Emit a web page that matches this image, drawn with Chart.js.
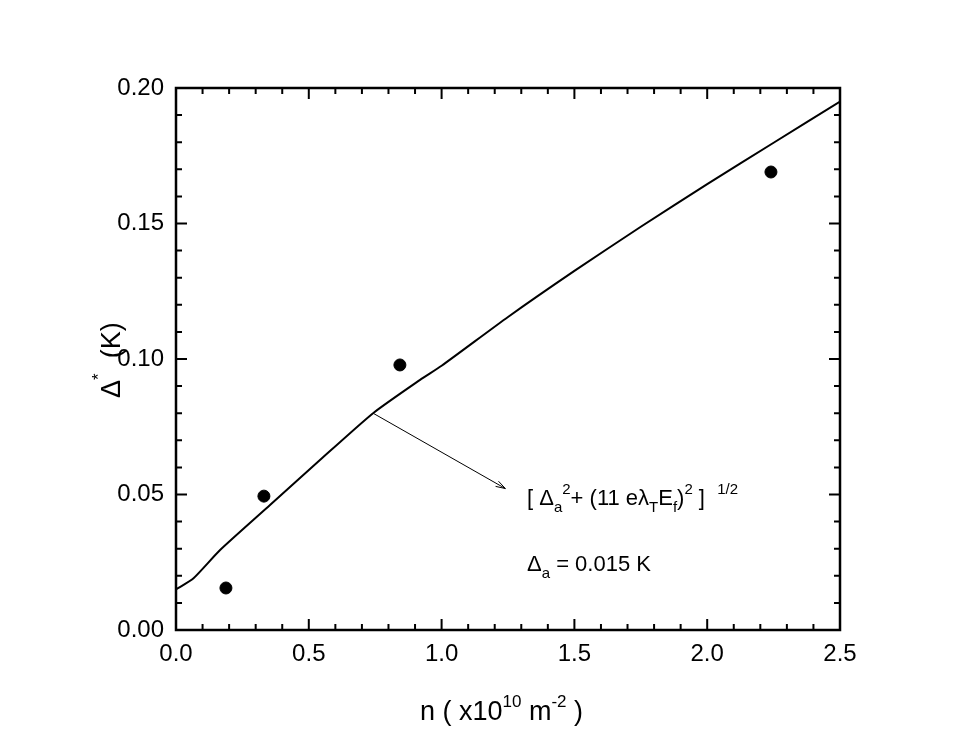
<!DOCTYPE html>
<html><head><meta charset="utf-8">
<script src="https://cdn.jsdelivr.net/npm/chart.js@4"></script>
<style>html,body{margin:0;padding:0;background:#fff}#wrap{width:977px;height:755px}</style>
</head><body><div id="wrap"><canvas id="c" width="977" height="755"></canvas></div>
<script>
const pointsX = [0.188, 0.331, 0.843, 2.24];
const pointsY = [0.0155, 0.0494, 0.0978, 0.169];
const curveX = [0, 0.065, 0.166, 0.354, 0.542, 0.742, 0.919, 1.0, 1.25, 1.5, 1.75, 2.0, 2.25, 2.5];
const curveY = [0.015, 0.019, 0.0295, 0.0461, 0.0627, 0.080, 0.0923, 0.0975, 0.1155, 0.1325, 0.1488, 0.1645, 0.1798, 0.195];
const xTicks = [0, 0.5, 1.0, 1.5, 2.0, 2.5];
const yTicks = [0, 0.05, 0.10, 0.15, 0.20];
const FONT = '"Liberation Sans", Arial, sans-serif';

const deco = {
  id: 'deco',
  afterDraw(ch) {
    const c = ch.ctx, a = ch.chartArea, xs = ch.scales.x, ys = ch.scales.y;
    c.save();
    c.strokeStyle = '#000'; c.lineWidth = 2.5;
    c.strokeRect(a.left, a.top, a.right - a.left, a.bottom - a.top);
    c.lineWidth = 2;
    for (let i = 0; i <= 25; i++) {
      const v = i * 0.1, px = xs.getPixelForValue(v), L = i % 5 === 0 ? 11 : 6;
      c.beginPath(); c.moveTo(px, a.bottom); c.lineTo(px, a.bottom - L);
      c.moveTo(px, a.top); c.lineTo(px, a.top + L); c.stroke();
    }
    for (let i = 0; i <= 20; i++) {
      const v = i * 0.01, py = ys.getPixelForValue(v), L = i % 5 === 0 ? 11 : 6;
      c.beginPath(); c.moveTo(a.left, py); c.lineTo(a.left + L, py);
      c.moveTo(a.right, py); c.lineTo(a.right - L, py); c.stroke();
    }
    const x0 = xs.getPixelForValue(0.742), y0 = ys.getPixelForValue(0.080);
    const x1 = xs.getPixelForValue(1.24), y1 = ys.getPixelForValue(0.0522);
    c.lineWidth = 1;
    c.beginPath(); c.moveTo(x0, y0); c.lineTo(x1, y1); c.stroke();
    const ang = Math.atan2(y1 - y0, x1 - x0);
    c.beginPath(); c.moveTo(x1, y1);
    c.lineTo(x1 - 10 * Math.cos(ang - 0.3), y1 - 10 * Math.sin(ang - 0.3));
    c.moveTo(x1, y1);
    c.lineTo(x1 - 10 * Math.cos(ang + 0.3), y1 - 10 * Math.sin(ang + 0.3));
    c.stroke();
    c.fillStyle = '#000'; c.textBaseline = 'alphabetic'; c.textAlign = 'left';
    function run(parts, x, y) {
      for (const [t, sz, dy] of parts) {
        c.font = sz + 'px ' + FONT; c.fillText(t, x, y + dy); x += c.measureText(t).width;
      }
      return x;
    }
    run([['[ Δ', 22, 0], ['a', 15, 7], ['2', 15, -11], ['+ (11 eλ', 22, 0], ['T', 15, 7], ['E', 22, 0], ['f', 15, 7], [')', 22, 0], ['2', 15, -11], [' ]  ', 22, 0], ['1/2', 15, -11]], 527, 505);
    run([['Δ', 22, 0], ['a', 15, 7], [' = 0.015 K', 22, 0]], 527, 571);
    run([['n ( x10', 27, 0], ['10', 17, -13], [' m', 27, 0], ['-2', 17, -13], [' )', 27, 0]], 420, 720);
    c.translate(120, 398); c.rotate(-Math.PI / 2);
    run([['Δ', 27, 0], ['*', 17, -16], ['  (K)', 27, 0]], 0, 0);
    c.restore();
  }
};

new Chart(document.getElementById('c'), {
  type: 'scatter',
  data: {
    datasets: [
      { data: pointsX.map((x, i) => ({ x, y: pointsY[i] })), backgroundColor: '#000', borderColor: '#000', pointRadius: 6, showLine: false },
      { data: curveX.map((x, i) => ({ x, y: curveY[i] })), borderColor: '#000', borderWidth: 2, pointRadius: 0, showLine: true, tension: 0.2 }
    ]
  },
  options: {
    responsive: false, animation: false, devicePixelRatio: 1,
    layout: { padding: { top: 88, right: 137, left: 0, bottom: 0 } },
    plugins: { legend: { display: false }, tooltip: { enabled: false } },
    scales: {
      x: {
        type: 'linear', min: 0, max: 2.5,
        afterBuildTicks: s => { s.ticks = xTicks.map(v => ({ value: v })); },
        afterFit: s => { s.height = 125; },
        grid: { display: false, drawTicks: false }, border: { display: false },
        ticks: { color: '#000', font: { family: FONT, size: 24 }, padding: 10, maxRotation: 0, callback: v => v.toFixed(1) }
      },
      y: {
        type: 'linear', min: 0, max: 0.2,
        afterBuildTicks: s => { s.ticks = yTicks.map(v => ({ value: v })); },
        afterFit: s => { s.width = 176; },
        grid: { display: false, drawTicks: false }, border: { display: false },
        ticks: { color: '#000', font: { family: FONT, size: 24 }, padding: 12, callback: v => v.toFixed(2) }
      }
    }
  },
  plugins: [deco]
});
</script></body></html>
